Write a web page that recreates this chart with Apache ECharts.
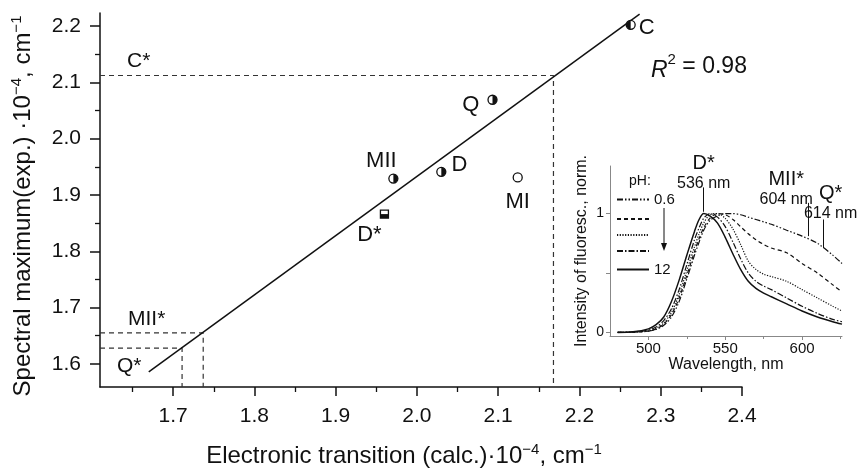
<!DOCTYPE html>
<html>
<head>
<meta charset="utf-8">
<script src="https://cdn.jsdelivr.net/npm/echarts@6/dist/echarts.min.js"></script>
<style>html,body{margin:0;background:#fff}#main{width:865px;height:470px}</style>
</head>
<body>
<div id="main"></div>
<script>
var myChart = echarts.init(document.getElementById('main'));

// main plot: calculated vs experimental maxima (x 10^-4 cm^-1)
var pointNames = ['C', 'Q', 'MII', 'D', 'MI', 'D*'];
var pointCalc = [2.263, 2.093, 1.971, 2.030, 2.124, 1.960];
var pointExp = [2.202, 2.069, 1.929, 1.941, 1.931, 1.866];
var pointFill = ['left', 'right', 'right', 'right', 'none', 'square'];

var fitCalc = [1.670, 2.274];
var fitExp = [1.586, 2.221];

var guideNames = ['C*', 'MII*', 'Q*'];
var guideCalc = [2.168, 1.737, 1.711];
var guideExp = [2.112, 1.655, 1.628];

var xTicks = [1.7, 1.8, 1.9, 2.0, 2.1, 2.2, 2.3, 2.4];
var xMinor = [1.65, 1.75, 1.85, 1.95, 2.05, 2.15, 2.25, 2.35];
var yTicks = [1.6, 1.7, 1.8, 1.9, 2.0, 2.1, 2.2];
var yMinor = [1.65, 1.75, 1.85, 1.95, 2.05, 2.15];

// inset: normalized fluorescence spectra
var wavelength = [480, 490, 500, 505, 510, 515, 520, 525, 530, 533, 536, 540, 545, 550, 555, 560, 565, 570, 575, 580, 590, 600, 610, 620, 626];
var fluorPh06 = [0, .002, .01, .025, .06, .13, .26, .45, .65, .76, .86, .94, .98, 1.0, 1.0, .99, .97, .95, .93, .91, .86, .81, .75, .65, .58];
var fluorPh2 = [0, .003, .012, .03, .07, .15, .29, .48, .68, .79, .88, .96, 1.0, .99, .95, .89, .83, .78, .74, .71, .67, .58, .50, .40, .34];
var fluorPh3 = [0, .003, .015, .035, .08, .17, .32, .52, .72, .83, .92, .99, 1.0, .96, .87, .74, .60, .53, .49, .47, .43, .36, .29, .22, .18];
var fluorPh4 = [0, .004, .02, .045, .10, .20, .36, .57, .78, .88, .96, 1.0, .97, .89, .76, .62, .50, .43, .39, .36, .29, .22, .16, .11, .09];
var fluorPh12 = [0, .005, .03, .065, .13, .26, .44, .65, .85, .95, 1.0, .98, .92, .80, .66, .53, .43, .37, .33, .30, .24, .18, .13, .09, .07];
var phNames = ['pH 0.6', 'pH 2', 'pH 3', 'pH 4', 'pH 12'];
var phShown = ['0.6', '', '', '', '12'];
var insetXTicks = [500, 550, 600];
var insetXMinor = [525, 575, 625];

var peakNames = ['D*', 'MII*', 'Q*'];
var peakNm = [536, 604, 614];
var peakText = ['536 nm', '604 nm', '614 nm'];

var xMin = 1.61, xMax = 2.4, yMin = 1.559, yMax = 2.223;
var ink = '#111';
var font = 'Liberation Sans';

function zip(a, b) {
    return a.map(function (v, i) { return [v, b[i]]; });
}

var labelPlace = {
    'C': { position: 'right', distance: 3, offset: [0, 3] },
    'Q': { position: 'left', distance: 8, offset: [0, 5] },
    'MII': { position: 'top', distance: 2, offset: [-12, 0] },
    'D': { position: 'right', distance: 5, offset: [0, -7] },
    'MI': { position: 'bottom', distance: 8 },
    'D*': { position: 'bottom', distance: 5, offset: [-15, 0] }
};
var guideLabelPlace = {
    'C*': { offset: [27, -14] },
    'MII*': { offset: [28, -14] },
    'Q*': { offset: [17, 18] }
};
var arrowSpan = { 'D*': [1.22, 1.015], 'MII*': [1.09, 0.81], 'Q*': [0.95, 0.71] };
var arrowLabelOffset = { 'D*': [0, 5], 'MII*': [-22, 6], 'Q*': [7, 3] };

var lineTypes = [[6, 2, 1.5, 2, 1.5, 2], [4, 3], [1.2, 1.5], [6, 2, 1.5, 2], 'solid'];
var fluorData = [fluorPh06, fluorPh2, fluorPh3, fluorPh4, fluorPh12];

var series = [];

series.push({
    type: 'line', name: 'fit', data: zip(fitCalc, fitExp),
    symbol: 'none', lineStyle: { color: ink, width: 1.5 }, z: 3, silent: true
});

guideNames.forEach(function (n, i) {
    series.push({
        type: 'line', name: n,
        data: [[xMin, guideExp[i]], [guideCalc[i], guideExp[i]], [guideCalc[i], yMin]],
        symbol: 'none', lineStyle: { color: '#333', width: 1.2, type: [5, 4] }, z: 2, silent: true
    });
});

series.push({
    type: 'scatter', name: 'guideLabels', symbolSize: 0, silent: true,
    itemStyle: { opacity: 1 },
    data: guideNames.map(function (n, i) {
        var p = guideLabelPlace[n];
        return {
            value: [xMin, guideExp[i]], name: n,
            label: { show: true, formatter: n, position: 'inside', offset: p.offset, align: 'left', verticalAlign: 'middle',
                color: ink, fontSize: 21, fontFamily: font }
        };
    })
});

series.push({
    type: 'scatter', name: 'points', z: 4, silent: true,
    data: pointNames.map(function (n, i) {
        var p = labelPlace[n];
        return {
            value: [pointCalc[i], pointExp[i]], name: n,
            symbol: pointFill[i] === 'square' ? 'rect' : 'circle',
            symbolSize: pointFill[i] === 'square' ? 8 : 9,
            label: { show: true, formatter: n, position: p.position, distance: p.distance, offset: p.offset || [0, 0],
                color: ink, fontSize: 22, fontFamily: font }
        };
    }),
    itemStyle: { color: '#fff', borderColor: ink, borderWidth: 1.3, opacity: 1 }
});

series.push({
    type: 'scatter', name: 'pointFill', z: 5, silent: true,
    data: pointNames.map(function (n, i) {
        var f = pointFill[i];
        var item = { value: [pointCalc[i], pointExp[i]], name: n };
        if (f === 'left') {
            item.symbol = 'path://M10,0A10,10,0,0,0,10,20Z';
            item.symbolSize = [4.5, 9];
            item.symbolOffset = [-2.25, 0];
        } else if (f === 'right') {
            item.symbol = 'path://M0,0A10,10,0,0,1,0,20Z';
            item.symbolSize = [4.5, 9];
            item.symbolOffset = [2.25, 0];
        } else if (f === 'square') {
            item.symbol = 'rect';
            item.symbolSize = [8, 4];
            item.symbolOffset = [0, 2];
        } else {
            item.symbolSize = 0;
        }
        return item;
    }),
    itemStyle: { color: ink, opacity: 1 }
});

fluorData.forEach(function (vals, i) {
    var s = {
        type: 'line', name: phNames[i], xAxisIndex: 2, yAxisIndex: 2,
        data: zip(wavelength, vals), symbol: 'none', smooth: 0.3,
        itemStyle: { color: ink },
        lineStyle: { color: ink, width: i === 4 ? 1.5 : 1.2, type: lineTypes[i] },
        silent: true
    };
    if (i === 4) {
        s.markLine = {
            silent: true, symbol: ['none', 'arrow'], symbolSize: [0, 6],
            lineStyle: { color: ink, width: 1, type: 'solid' },
            label: { show: true, position: 'start', distance: 0, color: ink, fontFamily: font, fontSize: 16, lineHeight: 18,
                rich: { big: { fontSize: 20, lineHeight: 22, color: ink, fontFamily: font } } },
            data: peakNames.map(function (n, k) {
                return [
                    { coord: [peakNm[k], arrowSpan[n][0]],
                      label: { formatter: '{big|' + n + '}\n' + peakText[k], offset: arrowLabelOffset[n] } },
                    { coord: [peakNm[k], arrowSpan[n][1]] }
                ];
            })
        };
    }
    series.push(s);
});

option = {
    animation: false,
    textStyle: { fontFamily: font },
    grid: [
        { left: 100, right: 123, top: 13, bottom: 83, containLabel: false, outerBoundsMode: 'none' },
        { left: 610, right: 23, top: 166, bottom: 134, containLabel: false, outerBoundsMode: 'none' }
    ],
    legend: {
        data: phNames, orient: 'vertical', left: 616, top: 192, padding: 0,
        itemWidth: 32, itemHeight: 10, itemGap: 7,
        itemStyle: { opacity: 0 },
        formatter: function (name) { return phShown[phNames.indexOf(name)]; },
        textStyle: { fontSize: 15, color: ink, fontFamily: font }
    },
    graphic: [
        { type: 'text', left: 629, top: 174, style: { text: 'pH:', fontSize: 14, fill: ink, fontFamily: font } },
        { type: 'line', shape: { x1: 664, y1: 208, x2: 664, y2: 246 }, style: { stroke: ink, lineWidth: 1 } },
        { type: 'polygon', shape: { points: [[661, 243], [667, 243], [664, 251]] }, style: { fill: ink } },
        { type: 'text', left: 651, top: 52, style: {
            text: '{i|R}{s|2} = 0.98', fill: ink, fontSize: 23, fontFamily: font,
            rich: { i: { fontStyle: 'italic', fontSize: 23, fontFamily: font, verticalAlign: 'bottom', lineHeight: 30 },
                    s: { fontSize: 15, fontFamily: font, verticalAlign: 'top', lineHeight: 15 } } } }
    ],
    xAxis: [
        {
            type: 'value', gridIndex: 0, min: xMin, max: xMax, position: 'bottom',
            name: 'Electronic transition (calc.)·10{s|−4}, cm{s|−1}', nameLocation: 'middle', nameGap: 55,
            nameTextStyle: { fontSize: 24, color: ink, lineHeight: 28, padding: [0, 34, 0, 0],
                rich: { s: { fontSize: 15, verticalAlign: 'top', lineHeight: 15, color: ink } } },
            splitLine: { show: false },
            axisLine: { onZero: false, lineStyle: { color: ink, width: 1.5 } },
            axisTick: { length: 9, customValues: xTicks, lineStyle: { color: ink, width: 1.5 } },
            axisLabel: { customValues: xTicks, fontSize: 21, color: ink, margin: 19,
                formatter: function (v) { return v.toFixed(1); } }
        },
        {
            type: 'value', gridIndex: 0, min: xMin, max: xMax, position: 'bottom',
            splitLine: { show: false },
            axisLine: { show: false, onZero: false },
            axisTick: { length: 5, customValues: xMinor, lineStyle: { color: ink, width: 1.3 } },
            axisLabel: { show: false }
        },
        {
            type: 'value', gridIndex: 1, min: 475, max: 626, position: 'bottom',
            name: 'Wavelength, nm', nameLocation: 'middle', nameGap: 21,
            nameTextStyle: { fontSize: 16, color: ink },
            splitLine: { show: false },
            axisLine: { onZero: false, lineStyle: { color: '#888', width: 1 } },
            axisTick: { length: 4, customValues: insetXTicks, lineStyle: { color: '#888' } },
            axisLabel: { customValues: insetXTicks, fontSize: 15, color: ink, margin: 5 }
        },
        {
            type: 'value', gridIndex: 1, min: 475, max: 626, position: 'bottom',
            splitLine: { show: false },
            axisLine: { show: false, onZero: false },
            axisTick: { length: 3, customValues: insetXMinor, lineStyle: { color: '#888' } },
            axisLabel: { show: false }
        }
    ],
    yAxis: [
        {
            type: 'value', gridIndex: 0, min: yMin, max: yMax, position: 'left',
            name: 'Spectral maximum(exp.) ·10{s|−4}, cm{s|−1}', nameLocation: 'middle', nameGap: 63, nameRotate: 90,
            nameTextStyle: { fontSize: 24, color: ink, lineHeight: 28, padding: [0, 12, 0, 0],
                rich: { s: { fontSize: 15, verticalAlign: 'top', lineHeight: 15, color: ink } } },
            splitLine: { show: false },
            axisLine: { onZero: false, lineStyle: { color: ink, width: 1.5 } },
            axisTick: { length: 10, customValues: yTicks, lineStyle: { color: ink, width: 1.5 } },
            axisLabel: { customValues: yTicks, fontSize: 21, color: ink, margin: 19,
                formatter: function (v) { return v.toFixed(1); } }
        },
        {
            type: 'value', gridIndex: 0, min: yMin, max: yMax, position: 'left', offset: 0,
            splitLine: { show: false },
            axisLine: { show: false, onZero: false },
            axisTick: { length: 5, customValues: yMinor, lineStyle: { color: ink, width: 1.3 } },
            axisLabel: { show: false }
        },
        {
            type: 'value', gridIndex: 1, min: -0.03, max: 1.4, position: 'left',
            name: 'Intensity of fluoresc., norm.', nameLocation: 'middle', nameGap: 20, nameRotate: 90,
            nameTextStyle: { fontSize: 16, color: ink },
            splitLine: { show: false },
            axisLine: { onZero: false, lineStyle: { color: '#888', width: 1 } },
            axisTick: { length: 4, customValues: [0, 0.5, 1], lineStyle: { color: '#888' } },
            axisLabel: { customValues: [0, 1], fontSize: 14, color: ink, margin: 6 }
        }
    ],
    series: series
};
myChart.setOption(option);
</script>
</body>
</html>
